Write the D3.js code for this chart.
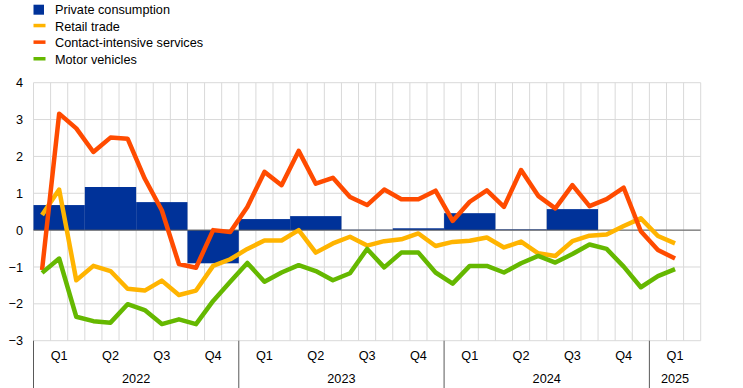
<!DOCTYPE html>
<html lang="en">
<head>
<meta charset="UTF-8">
<title>Consumption indicators</title>
<style>
  body { margin: 0; background: #fff; }
  svg text { font-family: "Liberation Sans", Arial, sans-serif; fill: #000; }
</style>
</head>
<body>
<script src="https://d3js.org/d3.v7.min.js"></script>
<script>
// months Jan 2022 .. Mar 2025 (axis), line data runs to Feb 2025
let months = d3.range(39).map(i => i);
let quarters = ["Q1", "Q2", "Q3", "Q4", "Q1", "Q2", "Q3", "Q4", "Q1", "Q2", "Q3", "Q4", "Q1"];
let years = ["2022", "2023", "2024", "2025"];
let yearQuarters = [4, 4, 4, 1];

// private consumption, quarter-on-quarter (bars)
let privateConsumption = [0.68, 1.17, 0.76, -0.90, 0.30, 0.38, 0.01, 0.05, 0.46, 0.02, 0.57, null, null];

// monthly lines
let retailTrade = [0.41, 1.10, -1.36, -0.97, -1.11, -1.59, -1.64, -1.37, -1.76, -1.64,
  -0.97, -0.79, -0.51, -0.28, -0.28, 0.00, -0.61, -0.36, -0.18, -0.42,
  -0.30, -0.25, -0.09, -0.43, -0.32, -0.29, -0.20, -0.47, -0.31, -0.63,
  -0.70, -0.30, -0.15, -0.12, 0.11, 0.32, -0.16, -0.36];
let contactServices = [-1.08, 3.16, 2.76, 2.12, 2.51, 2.48, 1.40, 0.54, -0.92, -1.02,
  0.00, -0.05, 0.63, 1.58, 1.22, 2.15, 1.26, 1.42, 0.90, 0.68,
  1.10, 0.84, 0.84, 1.07, 0.25, 0.77, 1.08, 0.63, 1.63, 0.93,
  0.59, 1.22, 0.65, 0.84, 1.15, -0.03, -0.54, -0.77];
let motorVehicles = [-1.16, -0.77, -2.35, -2.47, -2.51, -2.01, -2.17, -2.55, -2.42, -2.55,
  -1.92, -1.40, -0.89, -1.40, -1.15, -0.95, -1.11, -1.36, -1.17, -0.51,
  -1.01, -0.61, -0.61, -1.15, -1.45, -0.97, -0.97, -1.15, -0.90, -0.70,
  -0.88, -0.65, -0.39, -0.51, -0.99, -1.55, -1.25, -1.06];

let yTicks = [4, 3, 2, 1, 0, -1, -2, -3];

let svgWidth = 743, svgHeight = 388;
let plotLeft = 33.5, plotRight = 700.7, plotTop = 82.7, plotBottom = 340.7;
let fontSize = "12.7px";

let svg = d3.select("body").append("svg")
  .attr("width", svgWidth)
  .attr("height", svgHeight);

let x = d3.scaleBand().domain(months).range([plotLeft, plotRight]).paddingInner(0).paddingOuter(0);
let y = d3.scaleLinear().domain([-3, 4]).range([plotBottom, plotTop]);
let bw = x.bandwidth();

// grid
let grid = svg.append("g");
grid.selectAll(".hg").data(yTicks).enter().append("line")
  .attr("x1", plotLeft).attr("x2", plotRight)
  .attr("y1", d => y(d)).attr("y2", d => y(d))
  .attr("stroke", "#d9d9d9").attr("stroke-width", 1);
grid.selectAll(".vg").data(d3.range(40)).enter().append("line")
  .attr("x1", d => plotLeft + d * bw).attr("x2", d => plotLeft + d * bw)
  .attr("y1", plotTop).attr("y2", plotBottom)
  .attr("stroke", "#d9d9d9").attr("stroke-width", 1);

// y axis labels
let yAxis = d3.axisLeft(y).tickValues(yTicks).tickSize(0).tickPadding(0).tickFormat(d3.format("d"));
svg.append("g")
  .attr("transform", `translate(23,0)`)
  .call(yAxis)
  .call(g => g.select(".domain").remove())
  .call(g => g.attr("font-family", null))
  .selectAll("text")
  .style("font-size", fontSize);

// bars
svg.selectAll(".bar")
  .data(privateConsumption.map((v, i) => ({ v, i })).filter(d => d.v !== null))
  .enter().append("rect")
  .attr("x", d => x(d.i * 3))
  .attr("width", bw * 3)
  .attr("y", d => y(Math.max(0, d.v)))
  .attr("height", d => Math.abs(y(d.v) - y(0)))
  .attr("fill", "#003299");

// zero line
svg.append("line")
  .attr("x1", plotLeft).attr("x2", plotRight)
  .attr("y1", y(0)).attr("y2", y(0))
  .attr("stroke", "#595959").attr("stroke-width", 1);

// lines
let line = d3.line()
  .x((d, i) => x(i) + bw / 2)
  .y(d => y(d));
let series = [
  { data: retailTrade, color: "#ffb400" },
  { data: contactServices, color: "#ff4b00" },
  { data: motorVehicles, color: "#65b800" }
];
svg.selectAll(".series").data(series).enter().append("path")
  .attr("d", d => line(d.data))
  .attr("fill", "none")
  .attr("stroke", d => d.color)
  .attr("stroke-width", 4.5)
  .attr("stroke-linejoin", "round");

// x axis: quarters and years
let qg = svg.append("g");
qg.selectAll("text").data(quarters).enter().append("text")
  .attr("x", (d, i) => x(i * 3) + bw * 1.5)
  .attr("y", 360)
  .attr("text-anchor", "middle")
  .style("font-size", fontSize)
  .text(d => d);

let starts = [0];
yearQuarters.forEach((q, i) => starts.push(starts[i] + q * 3));
svg.selectAll(".year").data(years).enter().append("text")
  .attr("x", (d, i) => plotLeft + (starts[i] + starts[i + 1]) / 2 * bw)
  .attr("y", 383)
  .attr("text-anchor", "middle")
  .style("font-size", fontSize)
  .text(d => d);
svg.selectAll(".sep").data(starts.slice(0, 4)).enter().append("line")
  .attr("x1", d => plotLeft + d * bw).attr("x2", d => plotLeft + d * bw)
  .attr("y1", plotBottom).attr("y2", svgHeight)
  .attr("stroke", "#595959").attr("stroke-width", 1);

// legend
let legendItems = [
  { name: "Private consumption", color: "#003299", type: "box" },
  { name: "Retail trade", color: "#ffb400", type: "line" },
  { name: "Contact-intensive services", color: "#ff4b00", type: "line" },
  { name: "Motor vehicles", color: "#65b800", type: "line" }
];
let lg = svg.selectAll(".legend").data(legendItems).enter().append("g")
  .attr("transform", (d, i) => `translate(0, ${9.7 + i * 16.6})`);
lg.append("rect")
  .attr("x", 33.5)
  .attr("y", d => d.type === "box" ? -5 : -2.5)
  .attr("width", d => d.type === "box" ? 10.5 : 12)
  .attr("height", d => d.type === "box" ? 10 : 3.5)
  .attr("fill", d => d.color);
lg.append("text")
  .attr("x", 55)
  .attr("y", 4.5)
  .style("font-size", fontSize)
  .text(d => d.name);
</script>
</body>
</html>
